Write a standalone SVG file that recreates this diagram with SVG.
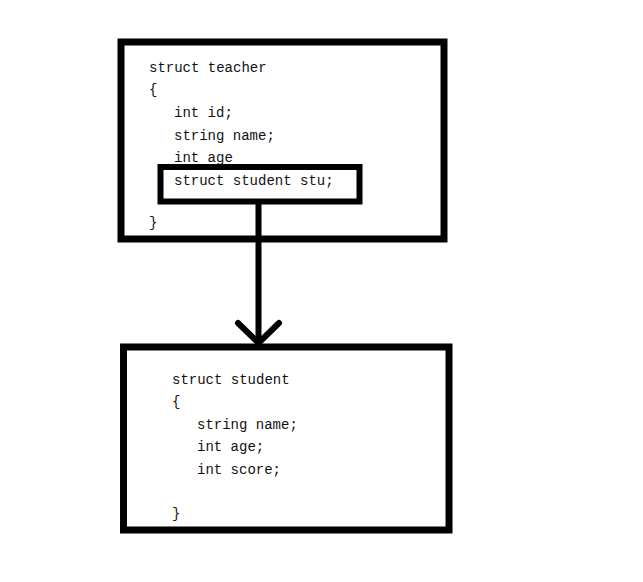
<svg xmlns="http://www.w3.org/2000/svg" width="643" height="582" viewBox="0 0 643 582">
<style>
.box{fill:none;stroke:#000;stroke-width:7}
.inner{fill:#fff;stroke:#000;stroke-width:6}
.code{font-family:"Liberation Mono","DejaVu Sans Mono",monospace;font-size:14px;fill:#111}
.conn{fill:none;stroke:#000;stroke-width:6;stroke-linecap:round;stroke-linejoin:round}
</style>
<rect width="643" height="582" fill="#fff"/>
<g id="teacher">
<rect class="box" x="121" y="42" width="323" height="197"/>
<text class="code" x="149" y="72">struct teacher</text>
<text class="code" x="149" y="94">{</text>
<text class="code" x="174" y="117">int id;</text>
<text class="code" x="174" y="140">string name;</text>
<text class="code" x="174" y="162">int age</text>
<text class="code" x="149" y="227">}</text>
</g>
<g id="stu-field">
<rect class="inner" x="160.5" y="167" width="199" height="34.5"/>
<text class="code" x="174" y="185">struct student stu;</text>
</g>
<g id="connectors">
<line class="conn" x1="258.5" y1="204" x2="258.5" y2="342"/>
<polyline class="conn" points="238,323 258.5,343 279,323"/>
</g>
<g id="student">
<rect class="box" x="123.5" y="347" width="325.5" height="183"/>
<text class="code" x="172" y="384">struct student</text>
<text class="code" x="172" y="406">{</text>
<text class="code" x="197" y="429">string name;</text>
<text class="code" x="197" y="451">int age;</text>
<text class="code" x="197" y="474">int score;</text>
<text class="code" x="172" y="518">}</text>
</g>
</svg>
